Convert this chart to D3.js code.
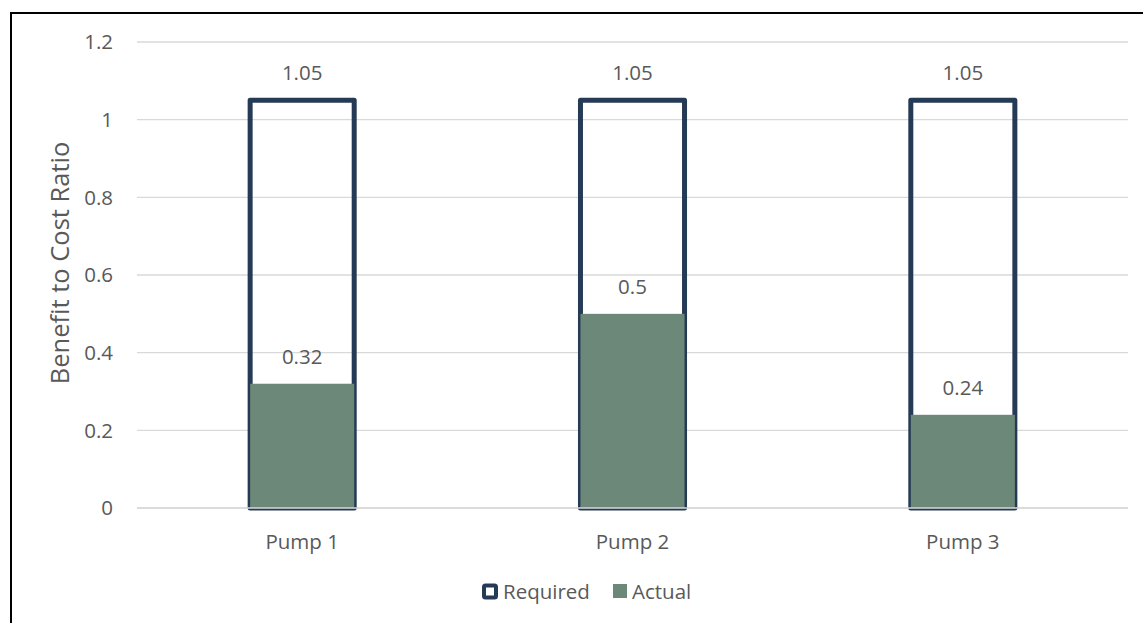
<!DOCTYPE html>
<html><head><meta charset="utf-8">
<script src="https://cdn.jsdelivr.net/npm/d3@7"></script>
<style>body{margin:0;background:#fff}svg{display:block}text{font-family:"Open Sans",sans-serif;fill:#595959}</style>
</head><body><svg id="c" width="1143" height="623"></svg>
<script>
const categories = ["Pump 1","Pump 2","Pump 3"];
const required = [1.05,1.05,1.05];
const actual = [0.32,0.5,0.24];
const yTicks = [0,0.2,0.4,0.6,0.8,1,1.2];
const tickLabels = ["0","0.2","0.4","0.6","0.8","1","1.2"];
const seriesNames = ["Required","Actual"];

const svg = d3.select("#c");
const navy = "#253a54", green = "#6b8878", grid = "#d9d9d9";
const fs = 20.5;
// frame
svg.append("line").attr("x1",11).attr("x2",1143).attr("y1",13).attr("y2",13).attr("stroke","#000").attr("stroke-width",2);
svg.append("line").attr("x1",11).attr("x2",11).attr("y1",12).attr("y2",623).attr("stroke","#000").attr("stroke-width",2);

const x = d3.scaleBand().domain(categories).range([137,1128]).paddingInner(0.685).paddingOuter(0.3425);
const y = d3.scaleLinear().domain([0,1.2]).range([508,42]);

const g = svg.append("g");
g.selectAll(".grid").data(yTicks).join("line")
  .attr("x1",137).attr("x2",1128).attr("y1",d=>y(d)).attr("y2",d=>y(d))
  .attr("stroke",grid).attr("stroke-width",1.3);
g.selectAll(".tl").data(yTicks).join("text")
  .attr("x",113).attr("y",d=>y(d)).attr("dy","0.35em").attr("text-anchor","end")
  .attr("font-size",fs).text((d,i)=>tickLabels[i]);

svg.append("text").attr("transform","translate(60,263) rotate(-90)").attr("text-anchor","middle")
  .attr("dy","0.35em").attr("font-size",25.5).text("Benefit to Cost Ratio");

const bw = x.bandwidth();
// required bars (outline)
g.selectAll(".req").data(categories).join("rect")
  .attr("x",d=>x(d)).attr("width",bw)
  .attr("y",(d,i)=>y(required[i])).attr("height",(d,i)=>y(0)-y(required[i]))
  .attr("fill","none").attr("stroke",navy).attr("stroke-width",5).attr("stroke-linejoin","round");
// actual bars
g.selectAll(".act").data(categories).join("rect")
  .attr("x",d=>x(d)).attr("width",bw)
  .attr("y",(d,i)=>y(actual[i])).attr("height",(d,i)=>y(0)-y(actual[i]))
  .attr("fill",green);
// baseline
g.append("line").attr("x1",137).attr("x2",1128).attr("y1",y(0)).attr("y2",y(0)).attr("stroke",grid).attr("stroke-width",1.3);

// labels
g.selectAll(".rl").data(categories).join("text")
  .attr("x",d=>x(d)+bw/2).attr("y",(d,i)=>y(required[i])-27).attr("dy","0.35em")
  .attr("text-anchor","middle").attr("font-size",fs).text((d,i)=>required[i]);
g.selectAll(".al").data(categories).join("text")
  .attr("x",d=>x(d)+bw/2).attr("y",(d,i)=>y(actual[i])-27).attr("dy","0.35em")
  .attr("text-anchor","middle").attr("font-size",fs).text((d,i)=>actual[i]);
g.selectAll(".cl").data(categories).join("text")
  .attr("x",d=>x(d)+bw/2).attr("y",542).attr("dy","0.35em")
  .attr("text-anchor","middle").attr("font-size",fs).text(d=>d);

// legend
const lg = svg.append("g");
lg.append("rect").attr("x",484).attr("y",585.5).attr("width",12).attr("height",12).attr("rx",1.5)
  .attr("fill","#fff").attr("stroke",navy).attr("stroke-width",4);
lg.append("text").attr("x",503).attr("y",592).attr("dy","0.35em").attr("font-size",fs).text(seriesNames[0]);
lg.append("rect").attr("x",613).attr("y",584).attr("width",14).attr("height",14).attr("fill",green);
lg.append("text").attr("x",632).attr("y",592).attr("dy","0.35em").attr("font-size",fs).text(seriesNames[1]);
</script></body></html>
